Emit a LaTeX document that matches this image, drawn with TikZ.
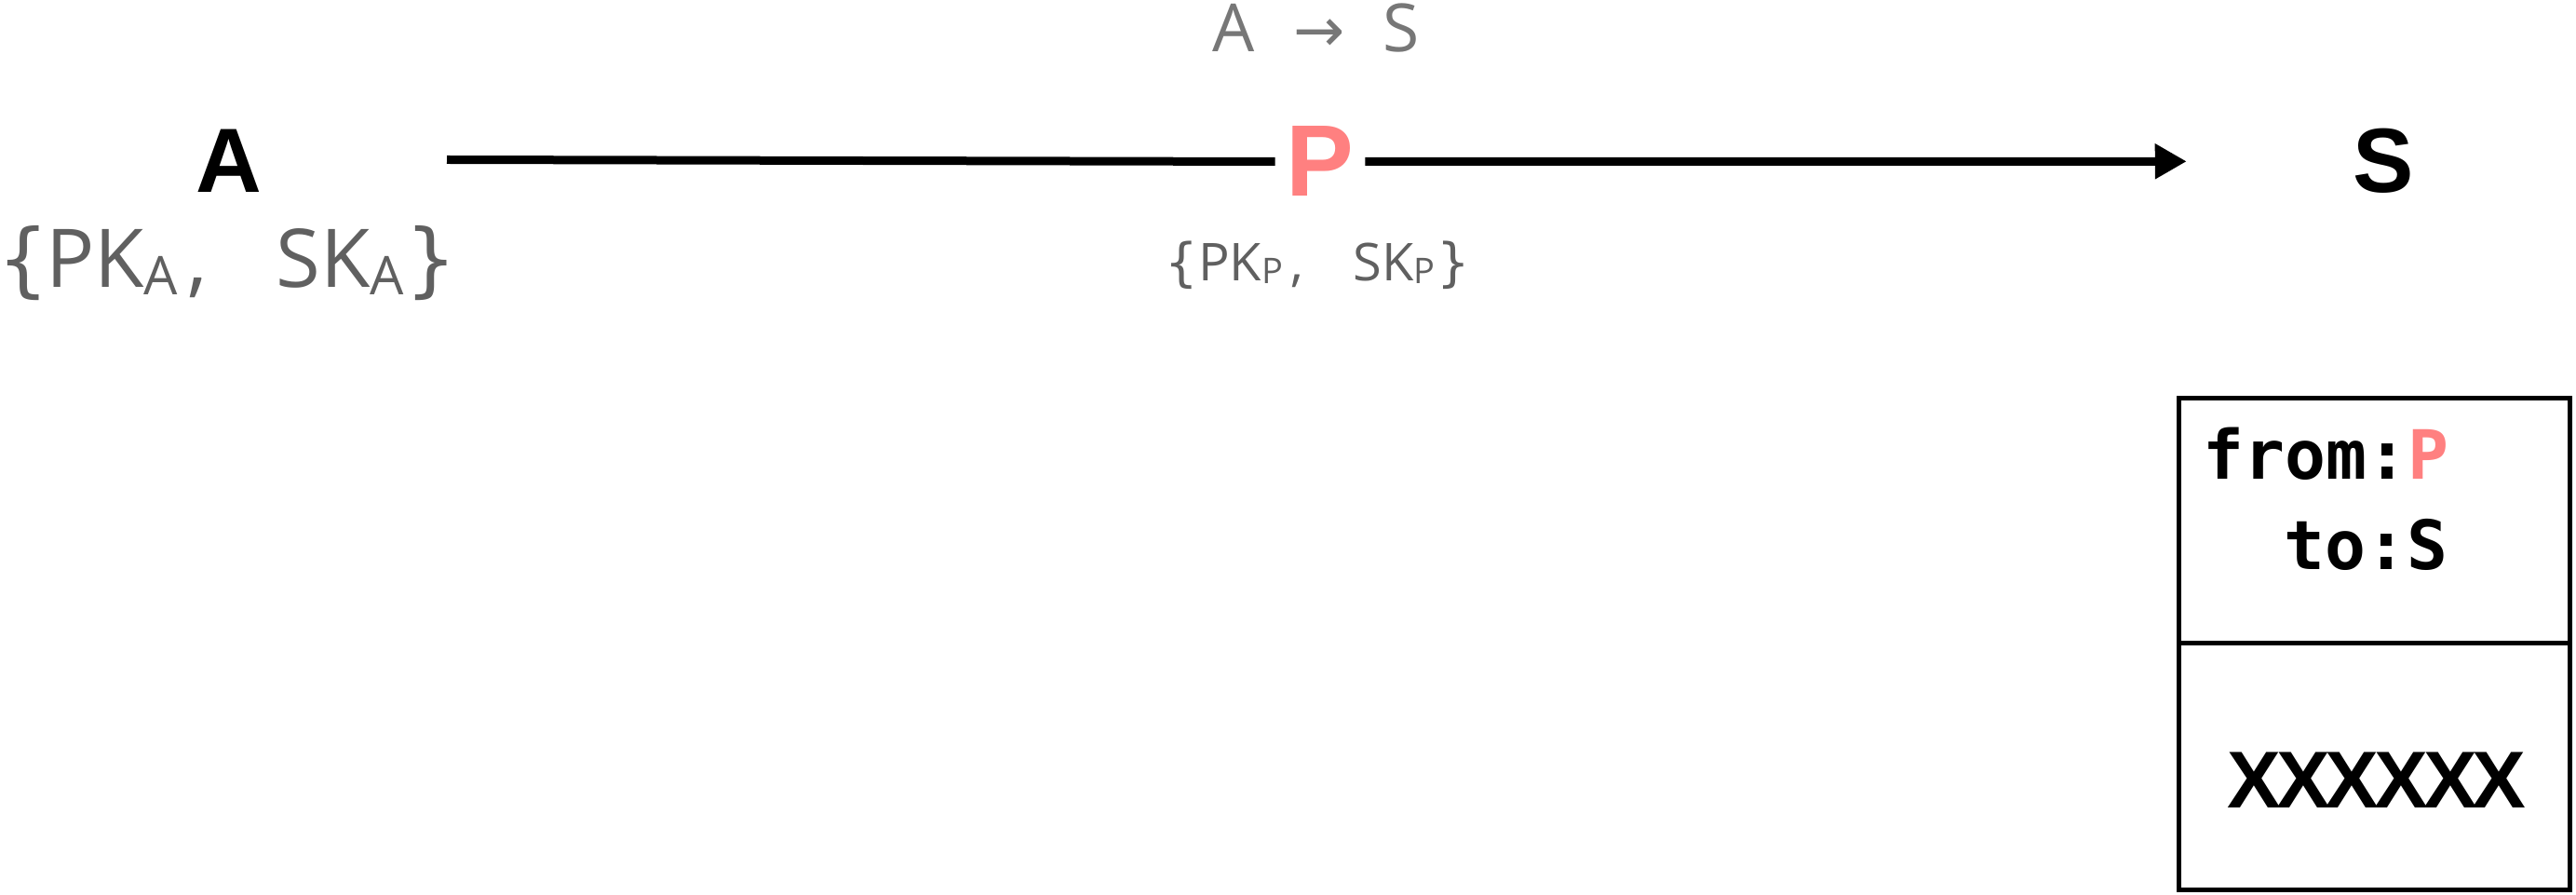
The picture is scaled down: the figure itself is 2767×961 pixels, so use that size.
\documentclass[tikz,border=0pt]{standalone}
\usepackage{fontspec}
\usetikzlibrary{arrows.meta}
\setmainfont{Open Sans}
\newfontfamily\hv{Liberation Sans}
\newfontfamily\hvtight{Liberation Sans}[LetterSpace=-6]
\newfontfamily\mono{DejaVu Sans Mono}
\newfontfamily\dv{DejaVu Sans}
\definecolor{pinkP}{RGB}{255,128,128}
\definecolor{keygray}{RGB}{96,96,96}
\definecolor{titlegray}{RGB}{119,119,119}
\newcommand\mysub[3]{{\fontsize{#1}{#1}\selectfont\raisebox{#2}{#3}}}
\newcommand\wbl{{\dv\{}}
\newcommand\wbr{{\dv\}}}
\begin{document}
\begin{tikzpicture}[x=0.5pt,y=-0.5pt,
  party/.style={inner sep=0pt, outer sep=0pt, anchor=base, font={\hv\bfseries\fontsize{49pt}{58pt}\selectfont}},
  keys/.style={inner sep=0pt, anchor=base, text=keygray},
  msgline/.style={line width=4.5pt},
  cell/.style={draw, line width=2.5pt, minimum width=210pt, inner sep=0pt, outer sep=0pt},
  monotxt/.style={inner sep=0pt, anchor=base west, font={\mono\bfseries\fontsize{36.5pt}{40pt}\selectfont}}
]
\useasboundingbox (0,0) rectangle (2767,961);

% parties
\node[party] (A) at (246,207) {A};
\node[party, inner xsep=6pt, text=pinkP, font={\hv\bfseries\fontsize{54.5pt}{60pt}\selectfont}] (P) at (1418,211) {P};
\node[party] (S) at (2560,207) {S};

% key sets
\node[keys, font={\fontsize{43.5pt}{50pt}\selectfont}] (keysA) at (244.5,309)
  {\wbl\kern-2pt PK\mysub{28.7pt}{-4pt}{A}\kern5pt,\hspace{37pt}SK\mysub{28.7pt}{-4pt}{A}\kern1pt\wbr};
\node[keys, font={\fontsize{28pt}{32pt}\selectfont}] (keysP) at (1415.5,302)
  {\wbl\kern0pt PK\mysub{19pt}{-1.5pt}{P}\kern4pt,\hspace{27pt}SK\mysub{19pt}{-1.5pt}{P}\kern1pt\wbr};

% message title
\node[inner sep=0pt, anchor=base, text=titlegray, font={\fontsize{35.7pt}{40pt}\selectfont}] (title) at (1413.5,56)
  {A\hspace{21pt}{\dv\fontsize{33pt}{40pt}\selectfont→}\hspace{20.5pt}S};

% message line
\coordinate (lstart) at (480,171.5);
\draw[msgline] (lstart) -- (P.west);
\draw[msgline, -{Triangle[length=17pt,width=18pt]}, shorten >=89.3pt] (P.east) -- (S.west);

% packet box
\node[cell, minimum height=131.75pt, anchor=north west] (hdr) at (2340.5,427.5) {};
\node[cell, minimum height=132.25pt, anchor=north] (body) at (hdr.south) {};
\node[monotxt] (fromtxt) at (2366,515) {from:\textcolor{pinkP}{P}};
\node[monotxt] (totxt) at (2453,612) {to:S};
\node[inner sep=0pt, anchor=base, font={\hvtight\bfseries\fontsize{43.3pt}{50pt}\selectfont}] (payload) at (2553,867) {XXXXXX};
\end{tikzpicture}
\end{document}
